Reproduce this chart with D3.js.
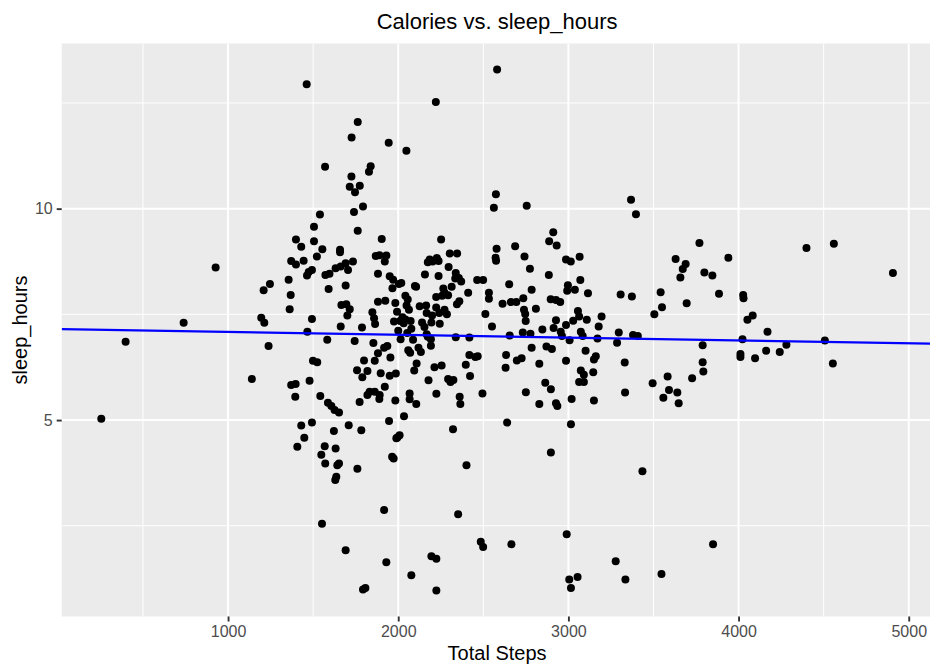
<!DOCTYPE html>
<html>
<head>
<meta charset="utf-8">
<script src="https://cdn.jsdelivr.net/npm/d3@7"></script>
<style>
  html, body { margin: 0; padding: 0; background: #ffffff; }
  svg { display: block; }
  text { font-family: "Liberation Sans", Arial, Helvetica, sans-serif; }
</style>
</head>
<body>
<svg id="chart" width="930" height="664"></svg>
<script>
// Daily totals: steps walked and hours slept
const totalSteps = [
  255,398,739,927,1140,1195,1213,1209,1246,1238,
  1462,1762,1726,1944,1570,1838,1828,1725,1715,1774,
  1746,1793,1740,1540,1762,1505,1399,1430,1505,1554,
  1658,1658,1903,
  2581,2221,2048,2574,2562,2252,2578,2687,2303,2346,
  2755,3368,3397,2911,2887,2931,2742,
  1371,1399,1444,1522,1493,1474,1464,1572,1596,1632,
  1662,1691,1705,1734,1356,1591,1691,1368,1868,1890,
  1930,1921,1881,1950,1970,1966,1362,1666,1695,1715,
  1701,1881,1924,1848,1858,1864,1975,1493,1466,1662,
  1787,1583,1744,1854,1917,1936,1881,1954,1799,1862,
  1499,1524,1758,1819,1897,1950,1479,1789,
  1371,1397,1395,1542,1587,1607,1626,1652,1773,1819,
  1832,1862,1891,1921,1983,1430,1493,1709,1622,1783,
  1946,1448,1407,1568,1632,1548,1571,1642,1652,1760,
  1636,1630,1989,1964,1973,1917,1552,1691,1930,1793,
  1807,1889,
  1986,1983,2004,2018,1993,2011,2000,2014,2025,2032,
  2042,2056,2049,2063,2042,2053,2073,2077,2098,2105,
  2087,2059,2070,2094,2108,2126,2140,2119,2133,2157,
  2164,2167,2154,2167,2174,2185,2202,2199,2195,2192,
  2192,2178,2213,2174,2227,2237,2223,2237,2223,2241,
  2258,2244,2255,2265,2272,2272,2286,2293,2296,2293,
  2307,2324,2314,2338,2356,2335,2345,2359,2370,2338,
  2411,2397,2418,2418,2453,2422,2464,2499,2467,2512,
  2533,2533,2551,2572,2575,2613,2631,2634,2652,2655,
  2662,2694,2697,
  2725,2732,2739,2746,2749,2774,2784,2777,2784,2809,
  2829,2847,2864,2871,2885,2896,2903,2927,2913,2927,
  2952,2955,2962,2986,2986,2986,2993,2997,3007,3014,
  3038,3028,3056,3063,3066,3070,3073,3084,3073,3091,
  3063,3091,3108,3115,3101,3150,3161,3146,3171,3178,
  3195,3286,3296,3307,3331,3373,3380,3408,2735,
  2067,2067,2106,2224,2361,2365,2495,2034,2640,2322,
  2008,1995,2401,2352,2485,2499,2665,2195,2224,2077,
  2224,
  2750,2897,2829,2927,2935,3019,3150,3333,3015,2897,
  3435,2990,3278,3005,3054,3015,3335,
  3770,3630,3689,3672,3658,3799,3846,3940,3542,3550,
  3505,3695,3885,4027,4029,4052,4083,4399,4560,4907,
  4023,4170,3789,4011,4011,4097,4162,4242,4281,4507,
  4554,3789,3793,3727,3495,3583,3591,3640,3558,3648,
  3547,3850
];

const sleepHours = [
  5.03,6.85,7.30,8.61,5.97,7.42,7.30,8.07,8.22,6.75,
  12.94,12.05,11.68,11.56,10.99,11.00,10.87,10.76,10.52,10.54,
  10.39,10.05,9.92,9.86,9.48,9.57,9.27,9.10,9.23,9.04,
  9.03,8.97,9.28,
  13.29,12.52,11.37,10.34,10.02,9.27,9.05,9.11,8.94,8.94,
  10.07,10.21,9.87,9.44,9.23,9.13,8.87,
  8.76,8.68,8.77,8.87,8.55,8.50,8.42,8.43,8.46,8.59,
  8.63,8.71,8.55,8.75,8.32,8.10,8.18,7.96,8.88,8.90,
  8.89,8.75,8.46,8.40,8.32,8.12,7.62,7.72,7.74,7.62,
  7.47,7.80,7.82,7.55,7.41,7.27,7.33,7.39,7.09,7.21,
  7.19,6.90,6.87,6.82,6.71,6.75,6.58,6.48,6.41,6.40,
  6.40,6.37,6.18,6.16,6.11,6.05,5.93,6.01,
  5.83,5.85,5.55,5.57,5.41,5.33,5.24,5.18,5.43,5.59,
  5.67,5.67,5.59,5.79,5.46,4.87,4.94,4.88,4.74,4.76,
  4.98,4.58,4.37,4.38,4.33,4.18,3.97,3.93,3.97,3.85,
  3.66,3.58,4.57,4.13,4.09,2.87,2.55,1.92,1.64,0.99,
  1.03,5.50,
  6.10,7.77,8.22,8.24,7.56,7.34,7.11,6.91,7.43,7.29,
  7.94,7.85,7.71,7.61,7.38,7.06,7.34,7.16,8.17,8.15,
  6.90,6.65,6.59,6.17,6.34,7.69,7.31,6.71,6.61,8.44,
  7.71,7.53,7.20,7.03,8.73,8.80,8.75,7.47,7.31,6.91,
  6.76,5.94,6.25,6.97,8.83,8.76,7.91,8.41,7.66,7.53,
  7.94,7.28,6.29,8.11,8.01,7.61,7.50,7.95,8.62,5.97,
  5.90,5.95,8.15,8.48,8.36,8.35,7.74,7.81,8.28,6.96,
  8.01,6.31,6.95,6.54,6.49,6.04,8.31,8.31,6.51,7.51,
  8.01,7.87,7.21,8.84,8.77,7.75,6.24,6.54,8.21,7.00,
  7.79,7.79,6.41,
  6.46,7.07,7.61,7.51,7.34,8.58,8.08,7.04,6.71,7.63,
  6.33,7.14,5.88,6.74,8.43,7.86,6.68,7.84,7.18,7.36,
  7.79,7.09,6.99,7.25,6.40,8.80,8.06,8.19,6.89,8.75,
  8.08,7.35,7.58,7.45,8.86,8.31,7.09,6.99,6.17,6.07,
  5.90,5.90,7.37,8.00,6.64,6.43,6.51,6.13,6.93,7.21,
  7.45,6.83,7.07,7.97,6.36,7.92,7.01,6.99,7.88,
  5.63,5.49,5.38,5.62,5.55,5.38,5.63,5.09,4.94,4.78,
  4.64,4.59,3.93,2.77,2.12,2.00,2.06,1.78,1.72,1.33,
  0.97,
  5.66,5.73,5.38,5.40,5.33,5.50,5.46,5.65,4.90,4.23,
  3.79,2.30,1.66,1.23,1.29,1.03,1.23,
  9.19,8.81,8.69,8.57,8.37,8.49,8.42,8.84,8.02,7.67,
  7.50,7.76,7.99,7.96,7.88,7.37,7.47,9.07,9.17,8.48,
  6.91,7.09,6.77,6.56,6.49,6.46,6.64,6.61,6.78,6.88,
  6.34,6.37,6.15,5.99,5.87,6.03,5.71,5.65,5.53,5.40,
  1.36,2.06
];

const xTickValues = [1000, 2000, 3000, 4000, 5000];
const xMinorValues = [500, 1500, 2500, 3500, 4500];
const yTickValues = [5, 10];
const yMinorValues = [2.5, 7.5, 12.5];

const titleText = "Calories vs. sleep_hours";
const xTitle = "Total Steps";
const yTitle = "sleep_hours";

if (totalSteps.length !== sleepHours.length) {
  console.error("length mismatch", totalSteps.length, sleepHours.length);
}
const points = totalSteps.map((s, i) => ({ steps: s, sleep: sleepHours[i] }));

const svg = d3.select("#chart");
const panel = { left: 61.7, right: 932.5, top: 43.5, bottom: 616.5 };

// ggplot-style 5% expansion of the data range
function expand(ext) {
  const pad = (ext[1] - ext[0]) * 0.05;
  return [ext[0] - pad, ext[1] + pad];
}
const x = d3.scaleLinear()
  .domain(expand(d3.extent(points, d => d.steps)))
  .range([panel.left, panel.right]);
const y = d3.scaleLinear()
  .domain(expand(d3.extent(points, d => d.sleep)))
  .range([panel.bottom, panel.top]);

svg.append("defs").append("clipPath").attr("id", "panel-clip")
  .append("rect")
  .attr("x", panel.left).attr("y", panel.top)
  .attr("width", panel.right - panel.left)
  .attr("height", panel.bottom - panel.top);

// panel background
svg.append("rect")
  .attr("x", panel.left).attr("y", panel.top)
  .attr("width", panel.right - panel.left)
  .attr("height", panel.bottom - panel.top)
  .attr("fill", "#EBEBEB");

const grid = svg.append("g").attr("clip-path", "url(#panel-clip)");

// minor grid
grid.selectAll(".xminor").data(xMinorValues).join("line")
  .attr("x1", d => x(d)).attr("x2", d => x(d))
  .attr("y1", panel.top).attr("y2", panel.bottom)
  .attr("stroke", "#ffffff").attr("stroke-width", 1);
grid.selectAll(".yminor").data(yMinorValues).join("line")
  .attr("y1", d => y(d)).attr("y2", d => y(d))
  .attr("x1", panel.left).attr("x2", panel.right)
  .attr("stroke", "#ffffff").attr("stroke-width", 1);

// major grid
grid.selectAll(".xmajor").data(xTickValues).join("line")
  .attr("x1", d => x(d)).attr("x2", d => x(d))
  .attr("y1", panel.top).attr("y2", panel.bottom)
  .attr("stroke", "#ffffff").attr("stroke-width", 2);
grid.selectAll(".ymajor").data(yTickValues).join("line")
  .attr("y1", d => y(d)).attr("y2", d => y(d))
  .attr("x1", panel.left).attr("x2", panel.right)
  .attr("stroke", "#ffffff").attr("stroke-width", 2);

// points
svg.append("g").selectAll("circle").data(points).join("circle")
  .attr("cx", d => x(d.steps))
  .attr("cy", d => y(d.sleep))
  .attr("r", 4)
  .attr("fill", "#000000");

// least-squares fit across the full x range
const mx = d3.mean(points, d => d.steps);
const my = d3.mean(points, d => d.sleep);
const sxy = d3.sum(points, d => (d.steps - mx) * (d.sleep - my));
const sxx = d3.sum(points, d => (d.steps - mx) ** 2);
const slope = sxy / sxx;
const intercept = my - slope * mx;
const xd = x.domain();
svg.append("g").attr("clip-path", "url(#panel-clip)")
  .append("path")
  .datum(xd.map(v => ({ steps: v, sleep: intercept + slope * v })))
  .attr("d", d3.line().x(d => x(d.steps)).y(d => y(d.sleep)))
  .attr("fill", "none")
  .attr("stroke", "#0000FF")
  .attr("stroke-width", 2.2);

// axes
const xAxis = d3.axisBottom(x).tickValues(xTickValues).tickSize(5).tickPadding(4).tickFormat(d3.format("d"));
const yAxis = d3.axisLeft(y).tickValues(yTickValues).tickSize(5).tickPadding(4).tickFormat(d3.format("d"));

const gx = svg.append("g").attr("transform", `translate(0,${panel.bottom})`).call(xAxis);
const gy = svg.append("g").attr("transform", `translate(${panel.left},0)`).call(yAxis);
[gx, gy].forEach(g => {
  g.select(".domain").remove();
  g.selectAll(".tick line").attr("stroke", "#333333").attr("stroke-width", 1.9);
  g.selectAll(".tick text")
    .attr("fill", "#4D4D4D")
    .style("font-size", "16px");
});

// titles
svg.append("text")
  .attr("x", (panel.left + panel.right) / 2)
  .attr("y", 29)
  .attr("text-anchor", "middle")
  .attr("fill", "#000000")
  .style("font-size", "22px")
  .text(titleText);

svg.append("text")
  .attr("x", (panel.left + panel.right) / 2)
  .attr("y", 660)
  .attr("text-anchor", "middle")
  .attr("fill", "#000000")
  .style("font-size", "20px")
  .text(xTitle);

svg.append("text")
  .attr("transform", `translate(27,${(panel.top + panel.bottom) / 2}) rotate(-90)`)
  .attr("text-anchor", "middle")
  .attr("fill", "#000000")
  .style("font-size", "20px")
  .text(yTitle);
</script>
</body>
</html>
